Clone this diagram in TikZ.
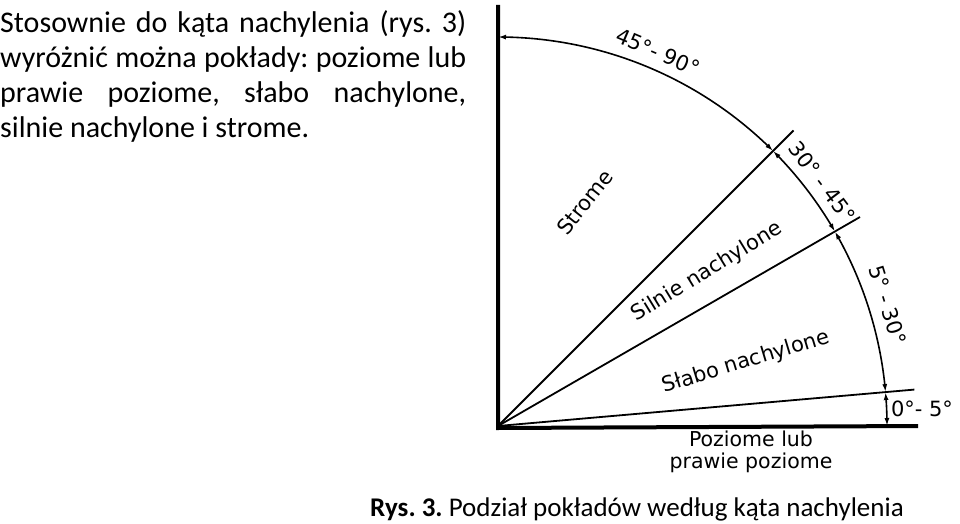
\documentclass[tikz,border=0pt]{standalone}
\usepackage{fontspec}
\setmainfont{Carlito}
\newfontfamily\lblfont{DejaVu Sans}
\usetikzlibrary{arrows.meta,bending,calc}
\frenchspacing
\tikzset{
  axis/.style={line width=4pt},
  ray/.style={line width=1.8pt},
  dim/.style={line width=1.6pt,{Latex[length=8pt,width=5pt,flex]}-{Latex[length=8pt,width=5pt,flex]}},
  lbl/.style={font=\lblfont\fontsize{21}{22}\selectfont,inner sep=0pt},
}
\begin{document}
\begin{tikzpicture}[x=1pt,y=1pt]
\useasboundingbox (0,0) rectangle (960,523);
\coordinate (O) at (498,97);
\coordinate (top) at (498,518);
\coordinate (right) at (918,97);
% rays
\coordinate (r5) at ($(O)+(5:418)$);
\coordinate (r30) at ($(O)+(30:418)$);
\coordinate (r45) at ($(O)+(45:418)$);
\draw[ray] (O) -- (r5);
\draw[ray] (O) -- (r30);
\draw[ray] (O) -- (r45);
% axes
\draw[axis] (top) -- ($(O)+(0,-2)$) -- (right);
% dimension arcs
\coordinate (a0) at ($(O)+(0:389)$);
\coordinate (a5) at ($(O)+(5:389)$);
\coordinate (a30) at ($(O)+(30:389)$);
\coordinate (a45) at ($(O)+(45:389)$);
\draw[dim] (a0) arc[start angle=0,end angle=5,radius=389];
\draw[dim] (a5) arc[start angle=5,end angle=30,radius=389];
\draw[dim] (a30) arc[start angle=30,end angle=45,radius=389];
\draw[dim] (a45) arc[start angle=45,end angle=90,radius=389];
% labels
\node[lbl,rotate=-23] (l1) at (658,471) {45°- 90°};
\node[lbl,rotate=-53] (l2) at (822,341) {30° - 45°};
\node[lbl,rotate=-72.8] (l3) at (888,218) {5° - 30°};
\node[lbl] (l4) at (922,114) {0°- 5°};
\node[lbl,rotate=51.6] (s1) at (585,321) {Strome};
\node[lbl,rotate=31.5] (s2) at (707,251) {Silnie nachylone};
\node[lbl,rotate=16.8] (s3) at (746,161) {Słabo nachylone};
\node[lbl,align=center,font=\lblfont\fontsize{20.5}{22}\selectfont] (s4) at (751,71) {Poziome lub\\prawie poziome};
% text
\node[anchor=base west,inner sep=0pt,text width=466pt,align=justify,font=\fontsize{30}{35}\selectfont] (txt) at (0,490)
 {\hyphenpenalty=10000 \frenchspacing
  Stosownie do kąta nachylenia (rys.~3)\linebreak
  wyróżnić można pokłady: poziome lub\linebreak
  prawie poziome, słabo nachylone,\linebreak
  silnie nachylone i~strome.};
\node[anchor=base west,inner sep=0pt,font=\fontsize{27}{30}\selectfont] (cap) at (370,7)
 {\textbf{Rys. 3.} Podział pokładów według kąta nachylenia};
\end{tikzpicture}
\end{document}
